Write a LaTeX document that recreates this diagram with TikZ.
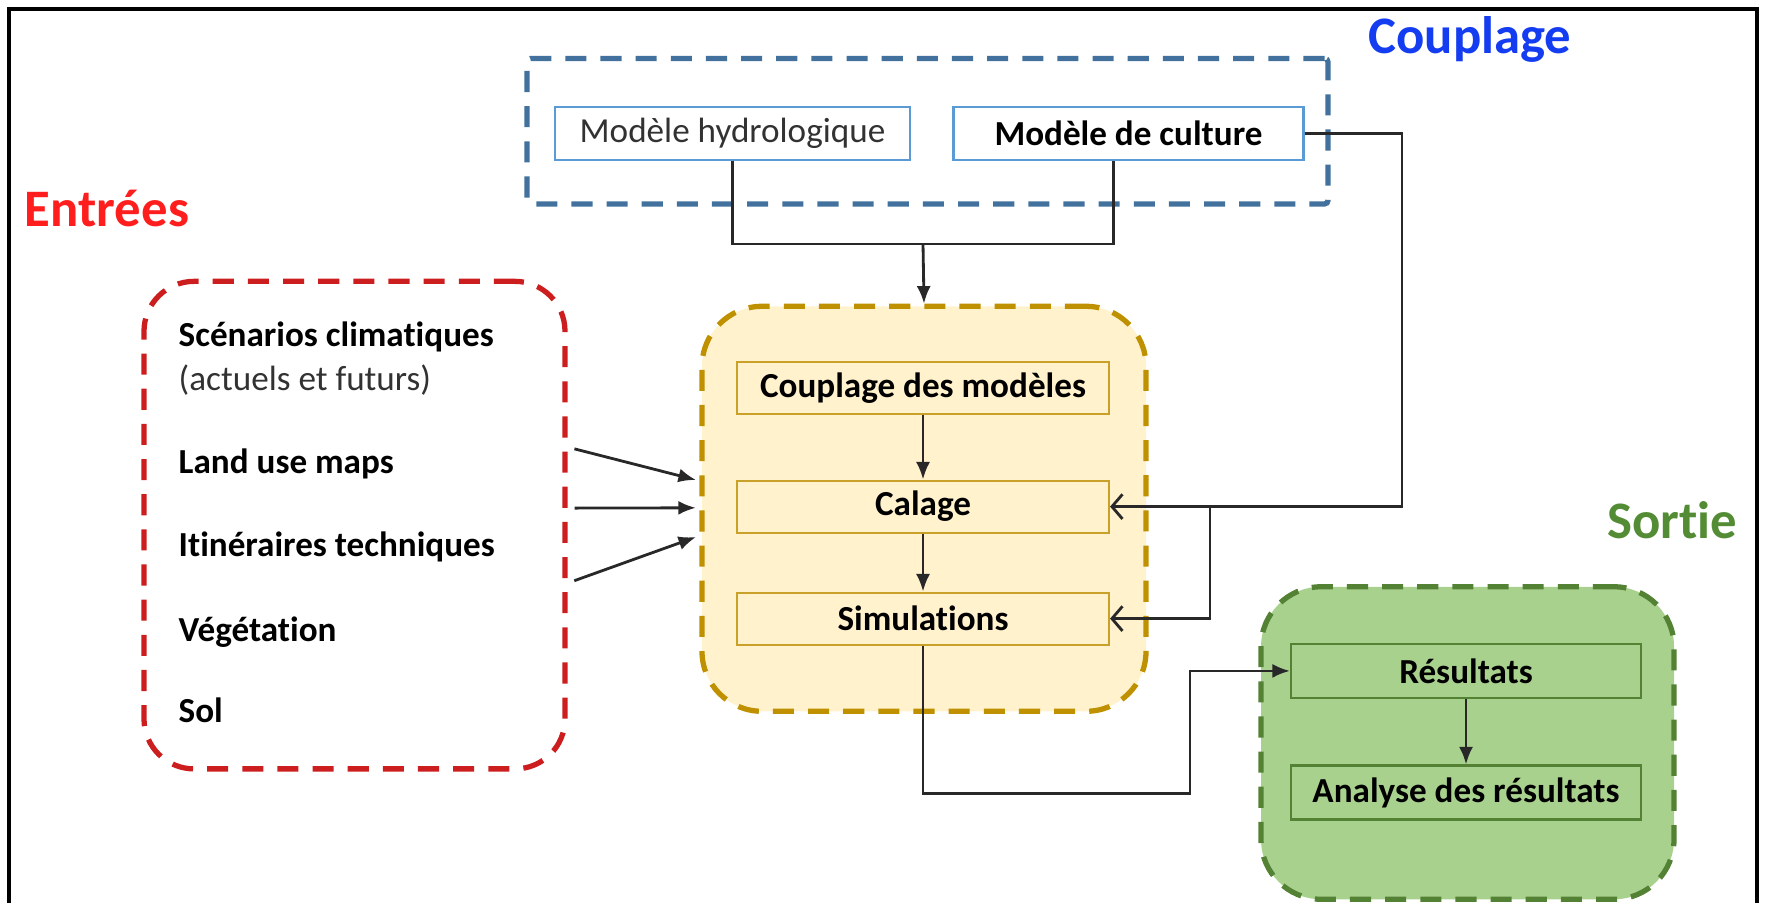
\documentclass[tikz,border=0pt]{standalone}
\usepackage{fontspec}
\setmainfont{Carlito}[Ligatures=NoCommon]
\usetikzlibrary{arrows.meta}

\definecolor{couplblue}{RGB}{65,113,156}
\definecolor{boxblue}{RGB}{91,155,213}
\definecolor{titleblue}{RGB}{20,60,240}
\definecolor{entreered}{RGB}{204,30,30}
\definecolor{titlered}{RGB}{255,30,30}
\definecolor{goldframe}{RGB}{191,144,0}
\definecolor{goldfill}{RGB}{255,242,204}
\definecolor{goldbox}{RGB}{201,160,40}
\definecolor{greenframe}{RGB}{84,130,53}
\definecolor{greenfill}{RGB}{169,209,142}
\definecolor{titlegreen}{RGB}{84,140,53}
\definecolor{linkgray}{RGB}{40,40,40}
\definecolor{darktext}{RGB}{50,50,50}

\begin{document}
\begin{tikzpicture}
\tikzset{outerframe/.style={line width=1pt,black}}

\tikzset{group/.style={
rectangle,draw,line width=1.5pt,
dash pattern=on 6pt off 4pt,
rounded corners=0.6cm}}

\tikzset{module/.style={
rectangle,draw,line width=0.6pt,
minimum height=0.53cm,
inner sep=0pt,
font=\bfseries,
align=center}}

\tikzset{item/.style={
anchor=base west,inner sep=0pt,
font=\bfseries}}

\tikzset{title/.style={
anchor=base,inner sep=0pt,
font=\fontsize{15}{18}\selectfont\bfseries}}

\tikzset{link/.style={draw=linkgray,line width=0.8pt}}
\tikzset{arrow/.style={link,-{Latex[length=5pt,width=4pt]}}}
\tikzset{backarrow/.style={link,-{Straight Barb[length=3pt,width=7pt]}}}

\clip (0,0) rectangle (17.65,9.02);

\draw[outerframe]
(0.09,-0.2) -- (0.09,8.93) -- (17.57,8.93) -- (17.57,-0.2);

\draw
(9.275,7.708)
node[group,draw=couplblue,rounded corners=1pt,
minimum width=8.01cm,minimum height=1.455cm,name=couplageframe] {}
(7.325,7.685)
node[module,draw=boxblue,font=\mdseries,text=darktext,
minimum width=3.55cm,name=hydro] {Modèle hydrologique}
(11.285,7.685)
node[module,draw=boxblue,
minimum width=3.5cm,name=culture] {Modèle de culture};

\draw
(3.545,3.769)
node[group,draw=entreered,rounded corners=0.5cm,
minimum width=4.21cm,minimum height=4.875cm,name=inputs] {}
(1.78,5.56) node[item,name=scenarios] {Scénarios climatiques}
(1.78,5.12) node[item,font=\mdseries,text=darktext,name=actuels] {(actuels et futurs)}
(1.78,4.29) node[item,name=landuse] {Land use maps}
(1.78,3.46) node[item,name=itineraires] {Itinéraires techniques}
(1.78,2.61) node[item,name=vegetation] {Végétation}
(1.78,1.80) node[item,name=sol] {Sol};

\draw
(9.24,3.932)
node[group,draw=goldframe,fill=goldfill,
minimum width=4.44cm,minimum height=4.05cm,name=calcul] {}
(9.23,5.136)
node[module,draw=goldbox,fill=goldfill,
minimum width=3.72cm,minimum height=0.52cm,name=couplagemod] {Couplage des modèles}
(9.23,3.954)
node[module,draw=goldbox,fill=goldfill,
minimum width=3.72cm,minimum height=0.52cm,name=calage] {Calage}
(9.23,2.834)
node[module,draw=goldbox,fill=goldfill,
minimum width=3.72cm,minimum height=0.52cm,name=simulations] {Simulations};

\draw
(14.675,1.59)
node[group,draw=greenframe,fill=greenfill,
minimum width=4.13cm,minimum height=3.125cm,name=sortieframe] {}
(14.66,2.311)
node[module,draw=greenframe,
minimum width=3.5cm,minimum height=0.54cm,name=resultats] {Résultats}
(14.66,1.095)
node[module,draw=greenframe,
minimum width=3.5cm,minimum height=0.54cm,name=analyse] {Analyse des résultats};

\draw
(14.70,8.49) node[title,text=titleblue,name=couplagetitle] {Couplage}
(1.07,6.757) node[title,text=titlered,name=entreestitle] {Entrées}
(16.72,3.64) node[title,text=titlegreen,name=sortietitle] {Sortie};

\coordinate (merge) at (9.23,6.58);
\coordinate (retour) at (14.02,3.954);
\coordinate (branch) at (12.10,3.954);
\coordinate (detour) at (11.90,1.084);

\draw[link] (hydro.south) |- (merge) -| ([xshift=-0.15cm]culture.south);
\draw[arrow] (merge) -- (calcul.north);

\draw[arrow,shorten <=2pt,shorten >=1pt]
([yshift=0.78cm]inputs.east) -- ([yshift=0.28cm]calcul.west);
\draw[arrow,shorten <=2pt,shorten >=1pt]
([yshift=0.17cm]inputs.east) -- ([yshift=0.01cm]calcul.west);
\draw[arrow,shorten <=2pt,shorten >=1pt]
([yshift=-0.58cm]inputs.east) -- ([yshift=-0.27cm]calcul.west);

\draw[arrow] (couplagemod) -- (calage);
\draw[arrow] (calage) -- (simulations);

\draw[backarrow] (culture.east) -| (retour) -- (calage.east);
\draw[backarrow] (branch) |- (simulations.east);

\draw[arrow] (simulations.south) |- (detour) |- (resultats.west);
\draw[arrow] (resultats) -- (analyse);

\end{tikzpicture}
\end{document}
